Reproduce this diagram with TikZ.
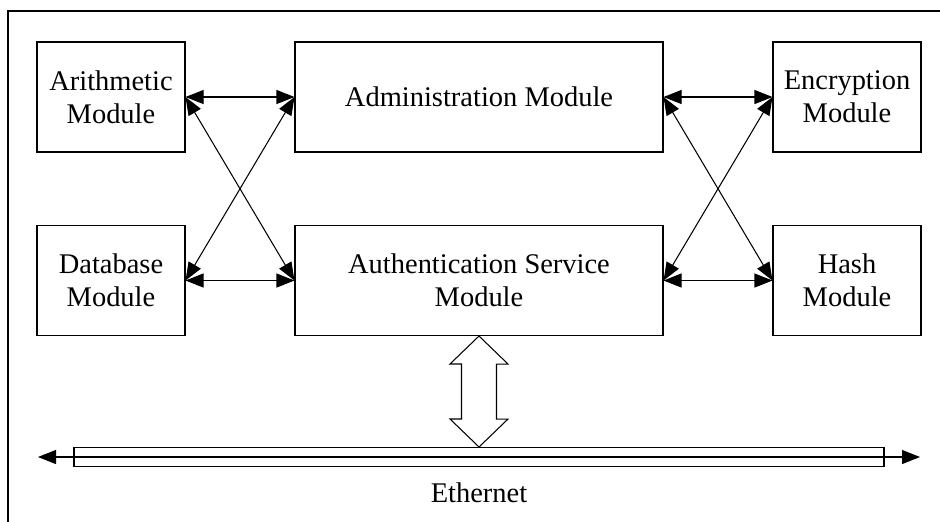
\documentclass[tikz,border=0pt]{standalone}
\usepackage{fontspec}
\setmainfont{Liberation Serif}
\usetikzlibrary{arrows.meta,positioning}

\begin{document}
\begin{tikzpicture}
		[
			x=0.2mm, y=-0.2mm,
			align=center,
			font=\fontsize{16.2pt}{18.8pt}\selectfont,
			module/.style={draw, line width=0.6pt, inner sep=0pt, minimum height=22mm},
			small/.style={module, minimum width=29.6mm},
			wide/.style={module, minimum width=73.6mm},
			label/.style={draw=none,fill=none},
			arrow/.style={{Triangle[length=3.6mm,width=2.8mm]}-{Triangle[length=3.6mm,width=2.8mm]}, line width=0.6pt},
			hollow/.style={draw, line width=0.6pt, line join=miter}
		]

		\useasboundingbox (0,0) rectangle (940,521);

		% frame
		\draw[line width=0.45mm] (8,11) rectangle (960,540);

		% modules
		\node[small]	(Arith) at ( 111.0,  97.0 ) {Arithmetic\\Module};
		\node[wide]		(Admin) at ( 479.0,  97.0 ) {Administration Module};
		\node[small]	(Encr)  at ( 847.0,  97.0 ) {Encryption\\Module};
		\node[small]	(Data)  at ( 111.0, 280.5 ) {Database\\Module};
		\node[wide]		(Auth)  at ( 479.0, 280.5 ) {Authentication Service\\Module};
		\node[small]	(Hash)  at ( 847.0, 280.5 ) {Hash\\Module};

		% bus
		\node[draw, line width=0.6pt, inner sep=0pt, minimum width=162mm, minimum height=3.8mm]
			(Bus) at ( 479.0, 457.0 ) {};
		\coordinate (BusL) at (  38.0, 457.0 );
		\coordinate (BusR) at ( 920.0, 457.0 );
		\node[label] (Eth) at ( 479.0, 493.0 ) {Ethernet};

		% links
		\foreach \from/\to in
		{Arith/Admin,Arith/Auth,Data/Admin,Data/Auth}
		\draw[arrow] (\from.east) -- (\to.west);

		\foreach \from/\to in
		{Admin/Encr,Admin/Hash,Auth/Encr,Auth/Hash}
		\draw[arrow] (\from.east) -- (\to.west);

		\draw[arrow] (BusL) -- (BusR);

		% double arrow to the bus
		\draw[hollow] (Auth.south) -- ++(29,28) -- ++(-11.5,0) -- ++(0,55) -- ++(11.5,0)
			-- (Bus.north) -- ++(-29,-28) -- ++(11.5,0) -- ++(0,-55) -- ++(-11.5,0) -- cycle;

	\end{tikzpicture}
\end{document}
